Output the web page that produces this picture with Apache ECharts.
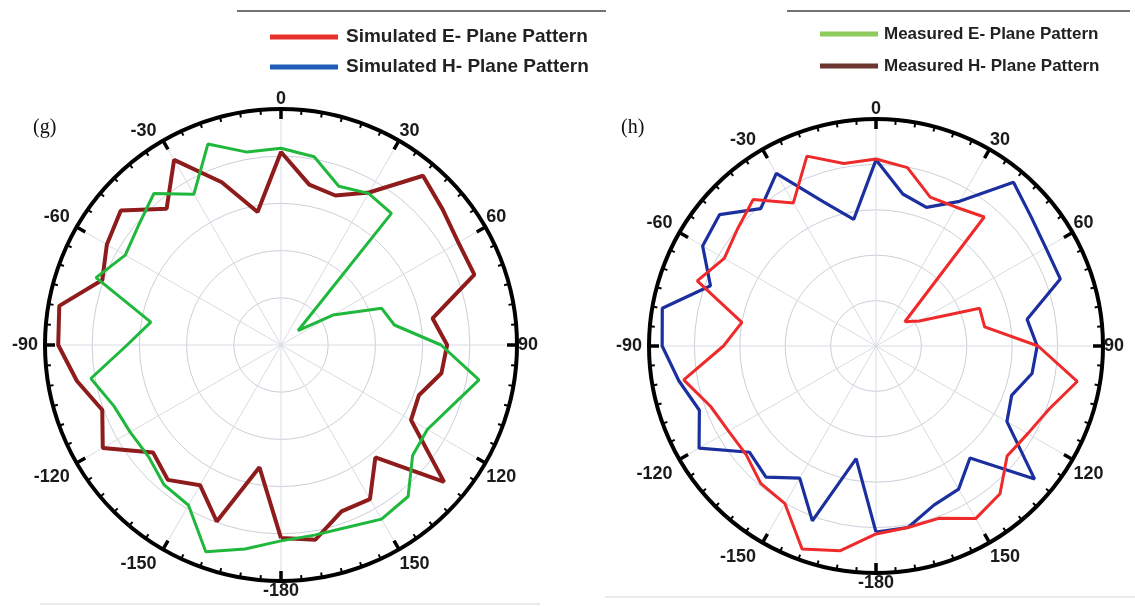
<!DOCTYPE html>
<html><head><meta charset="utf-8">
<script src="https://cdn.jsdelivr.net/npm/echarts@6/dist/echarts.min.js"></script>
<style>html,body{margin:0;padding:0;background:#fff}#c{width:1135px;height:606px}</style>
</head><body><div id="c"></div>
<script>
// Angles in degrees (one point every 10 degrees, closed loop)
const angles = [-180,-170,-160,-150,-140,-130,-120,-110,-100,-90,-80,-70,-60,-50,-40,-30,-20,-10,0,10,20,30,40,50,60,70,80,90,100,110,120,130,140,150,160,170,180];
const angleTicks = [-180,-150,-120,-90,-60,-30,0,30,60,90,120,150];

// (g) measured patterns (radial value, outer ring = 50)
const measuredE = [41.5,43.9,46.6,39.2,38.6,36.7,36.9,37.7,40.9,32.6,28.0,41.7,38.1,39.4,41.9,36.9,45.3,41.5,41.7,40.5,35.8,37.1,36.4,4.7,12.7,22.7,24.4,33.9,42.6,38.3,35.8,36.4,41.9,42.6,41.1,40.9,41.5];
const measuredH = [40.9,26.3,39.8,34.3,37.3,35.4,43.6,40.3,43.9,47.2,47.7,40.3,42.6,44.3,37.7,45.3,36.7,28.6,40.9,34.5,33.7,37.3,46.8,44.7,43.4,43.6,32.6,35.2,34.5,31.1,31.8,45.1,31.1,37.7,37.5,41.9,40.9];

// (h) simulated patterns
const simulatedE = [41.4,45.8,47.6,40.1,39.5,37.3,37.5,38.8,43.0,33.6,30.0,41.9,38.6,39.9,42.1,36.4,44.5,40.8,41.2,39.9,34.9,35.3,37.1,8.3,11.0,24.3,24.3,35.7,45.0,40.6,38.6,37.7,42.5,43.9,40.4,40.6,41.4];
const simulatedH = [41.0,25.2,41.0,33.6,37.7,36.4,45.0,41.4,44.1,47.1,47.8,38.8,44.1,45.0,39.5,43.9,33.8,28.3,41.0,34.0,32.5,36.8,47.1,44.5,43.2,43.2,33.8,35.5,34.9,31.8,33.3,45.6,32.2,36.4,37.3,40.6,41.0];

const names = {
  simE: 'Simulated E- Plane Pattern',
  simH: 'Simulated H- Plane Pattern',
  meaE: 'Measured E- Plane Pattern',
  meaH: 'Measured H- Plane Pattern'
};

function pts(vals){ return vals.map((v,i)=>[v, angles[i]]); }

const labelFont = {color:'#1a1a1a', fontSize:18, fontWeight:'bold', fontFamily:'Liberation Sans, Arial, sans-serif'};

function angleAxis(idx, R){
  return {
    polarIndex: idx, type:'value', min:-180, max:180, interval:30,
    startAngle: 270, clockwise: true,
    axisLine:{show:true, lineStyle:{color:'#000', width:4}},
    axisTick:{show:true, inside:true, length:10, lineStyle:{color:'#000', width:3.5}},
    minorTick:{show:true, splitNumber:6, length:5, lineStyle:{color:'#000', width:2}},
    // spokes are drawn from the rim inwards: leave the first 11px (under the tick) blank
    splitLine:{show:true, lineStyle:{color:'#d9dce2', width:1, type:[0, 11, R, 60]}},
    axisLabel:Object.assign({show:true, margin:1,
      formatter:function(v){
        if (v===180 || angleTicks.indexOf(v)<0) return '';
        if (v===-180 || v===0) return '{p|' + v + '}';
        if (v<=-120) return '{b|' + v + '}';
        if (v<0) return '{a|' + v + '}';
        if (v>=120) return '{c|' + v + '}';
        return '{p|' + v + '}';
      },
      rich:{
        p:Object.assign({}, labelFont),
        a:Object.assign({padding:[0,6,0,0]}, labelFont),
        b:Object.assign({padding:[5,6,0,0]}, labelFont),
        c:Object.assign({padding:[5,0,0,0]}, labelFont)
      }}, labelFont)
  };
}
function radiusAxis(idx){
  return {
    polarIndex: idx, type:'value', min:0, max:50, interval:10,
    axisLine:{show:false}, axisTick:{show:false}, axisLabel:{show:false},
    splitLine:{show:true, lineStyle:{color:'#cbcfd9', width:1}}
  };
}

const chart = echarts.init(document.getElementById('c'), null, {renderer:'canvas'});
chart.setOption({
  animation:false,
  backgroundColor:'#ffffff',
  polar:[
    {center:[281,345], radius:236},
    {center:[876,346], radius:227}
  ],
  angleAxis:[angleAxis(0,236), angleAxis(1,227)],
  radiusAxis:[radiusAxis(0), radiusAxis(1)],
  legend:[
    {left:265, top:22, orient:'vertical', itemGap:10, itemWidth:68, itemHeight:5, icon:'rect', selectedMode:false,
     textStyle:{fontSize:19, lineHeight:20, fontWeight:'bold', color:'#222', fontFamily:'Liberation Sans Narrow, Liberation Sans, Arial, sans-serif', padding:[0,0,0,3]},
     data:[{name:names.simE, itemStyle:{color:'#e8302c'}},{name:names.simH, itemStyle:{color:'#1f5cb8'}}]},
    {left:815, top:20, orient:'vertical', itemGap:14, itemWidth:58, itemHeight:5, icon:'rect', selectedMode:false,
     textStyle:{fontSize:17, lineHeight:18, fontWeight:'bold', color:'#222', fontFamily:'Liberation Sans Narrow, Liberation Sans, Arial, sans-serif', padding:[0,0,0,1]},
     data:[{name:names.meaE, itemStyle:{color:'#8fca5c'}},{name:names.meaH, itemStyle:{color:'#6b3530'}}]}
  ],
  graphic:[
    {type:'line', shape:{x1:237,y1:11,x2:606,y2:11}, style:{stroke:'#444', lineWidth:1.5}},
    {type:'line', shape:{x1:787,y1:11,x2:1130,y2:11}, style:{stroke:'#444', lineWidth:1.5}},
    {type:'line', shape:{x1:40,y1:604,x2:540,y2:604}, style:{stroke:'#e4e4e4', lineWidth:1.5}},
    {type:'line', shape:{x1:605,y1:597,x2:1135,y2:597}, style:{stroke:'#e4e4e4', lineWidth:1.5}},
    {type:'text', left:33, top:118, style:{text:'(g)', font:'20px "Liberation Serif", "Times New Roman", serif', fill:'#111'}},
    {type:'text', left:621, top:118, style:{text:'(h)', font:'20px "Liberation Serif", "Times New Roman", serif', fill:'#111'}}
  ],
  series:[
    {name:names.meaE, type:'line', coordinateSystem:'polar', polarIndex:0, showSymbol:false, data:pts(measuredE),
     lineStyle:{color:'#1fb83c', width:3}, itemStyle:{color:'#1fb83c'}, z:3},
    {name:names.meaH, type:'line', coordinateSystem:'polar', polarIndex:0, showSymbol:false, data:pts(measuredH),
     lineStyle:{color:'#8e1c1c', width:4}, itemStyle:{color:'#8e1c1c'}, z:2},
    {name:names.simE, type:'line', coordinateSystem:'polar', polarIndex:1, showSymbol:false, data:pts(simulatedE),
     lineStyle:{color:'#ee2a2a', width:3}, itemStyle:{color:'#ee2a2a'}, z:3},
    {name:names.simH, type:'line', coordinateSystem:'polar', polarIndex:1, showSymbol:false, data:pts(simulatedH),
     lineStyle:{color:'#1c2f9e', width:3.2}, itemStyle:{color:'#1c2f9e'}, z:2}
  ]
});
</script></body></html>
